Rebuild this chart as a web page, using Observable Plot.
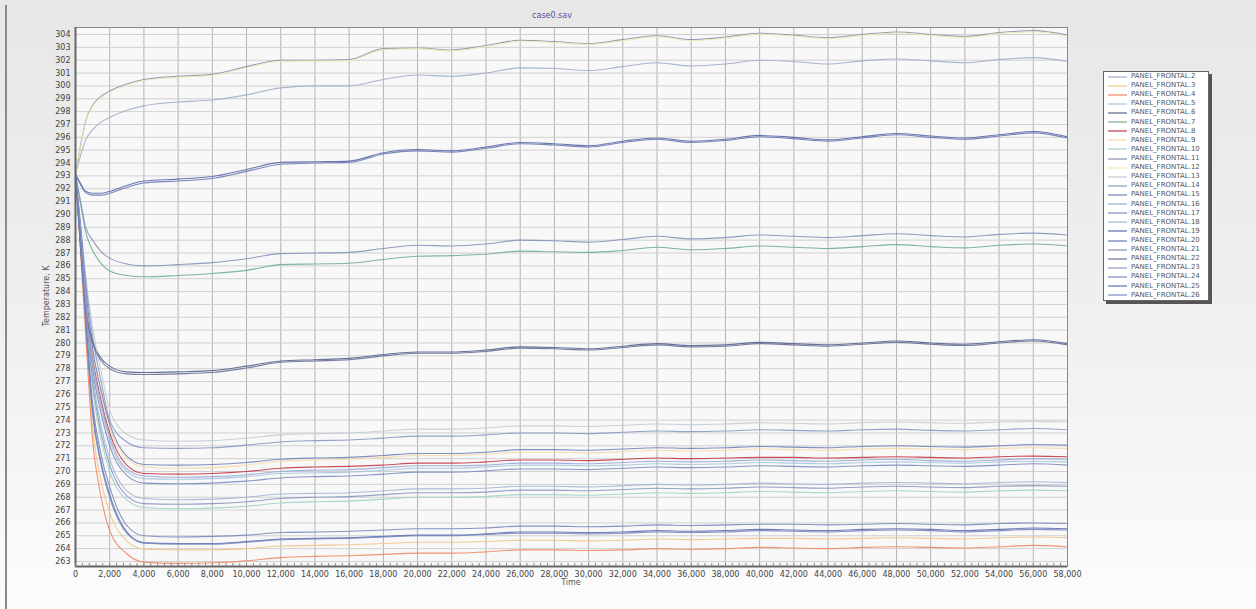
<!DOCTYPE html>
<html><head><meta charset="utf-8">
<script src="https://cdn.jsdelivr.net/npm/d3@7"></script>
<script src="https://cdn.jsdelivr.net/npm/@observablehq/plot@0.6"></script>
<style>
html,body{margin:0;padding:0;}
body{width:1256px;height:609px;overflow:hidden;position:relative;background:linear-gradient(to bottom,#e7e7e7 0%,#f0f0f0 55%,#fcfcfc 100%);font-family:"DejaVu Sans",Verdana,sans-serif;}
#edge{position:absolute;left:5px;top:5px;width:2px;bottom:0;background:#8a8a8a;}
#chart{position:absolute;left:0;top:0;}
#title{position:absolute;left:452px;width:200px;top:11px;text-align:center;font-size:8px;color:#50509a;}
#xlab{position:absolute;left:75px;width:992px;top:578px;text-align:center;font-size:8px;color:#555;}
#ylab{position:absolute;left:46px;top:296px;transform:translate(-50%,-50%) rotate(-90deg);font-size:8px;color:#555;white-space:nowrap;}
#legend{position:absolute;left:1103px;top:71px;width:104px;background:#fff;border:1px solid #666;box-shadow:3px 3px 0 #555;padding:0;}
.row{height:9.12px;display:flex;align-items:center;font-size:7px;color:#555;line-height:9px;white-space:nowrap;}
.row svg{margin-left:4px;margin-right:4px;}
</style></head>
<body>
<div id="edge"></div>
<div id="chart"></div>
<div id="title">case0.sav</div>
<div id="xlab">Time</div>
<div id="ylab">Temperature, K</div>
<div id="legend"></div>
<script>
const time = [0,300,600,1000,1500,2000,3000,4000,6000,8000,10000,12000,14000,16000,18000,20000,22000,24000,26000,28000,30000,32000,34000,36000,38000,40000,42000,44000,46000,48000,50000,52000,54000,56000,58000];

const panel2  = [293.1,294.6,295.8,296.6,297.2,297.55,298.1,298.45,298.75,298.9,299.3,299.85,300.0,300.0,300.5,300.85,300.75,301.0,301.4,301.35,301.2,301.5,301.8,301.55,301.7,302.0,301.9,301.7,301.95,302.1,301.95,301.8,302.05,302.2,301.9];
const panel3  = [293.1,287.5,281.0,273.5,269.2,266.8,264.6,263.95,263.9,263.9,264.0,264.2,264.25,264.3,264.4,264.5,264.5,264.55,264.65,264.65,264.6,264.65,264.75,264.7,264.75,264.8,264.8,264.75,264.8,264.85,264.8,264.75,264.85,264.9,264.85];
const panel4  = [293.1,287.0,280.5,272.5,268.0,265.4,263.6,262.95,262.85,262.9,263.05,263.3,263.4,263.45,263.55,263.65,263.65,263.75,263.9,263.9,263.85,263.9,264.0,263.95,264.0,264.1,264.05,264.0,264.1,264.15,264.1,264.05,264.15,264.25,264.15];
const panel5  = [293.1,288.6,283.5,278.5,275.0,272.4,270.0,269.45,269.4,269.45,269.6,269.85,269.9,269.95,270.1,270.25,270.25,270.35,270.5,270.5,270.45,270.5,270.6,270.55,270.6,270.7,270.65,270.6,270.7,270.75,270.7,270.65,270.75,270.8,270.75];
const panel6  = [293.1,287.5,283.0,280.2,278.8,278.2,277.75,277.7,277.75,277.85,278.2,278.6,278.7,278.8,279.1,279.3,279.3,279.45,279.7,279.65,279.55,279.75,279.95,279.8,279.85,280.05,279.95,279.85,280.0,280.15,280.0,279.9,280.1,280.25,279.95];
const panel7  = [293.1,290.8,288.6,287.2,286.2,285.6,285.25,285.15,285.25,285.4,285.65,286.1,286.15,286.2,286.5,286.75,286.8,286.9,287.15,287.1,287.05,287.2,287.45,287.25,287.35,287.55,287.45,287.35,287.5,287.65,287.5,287.4,287.6,287.7,287.55];
const panel8  = [293.1,288.7,283.8,279.0,275.5,273.0,270.5,269.85,269.8,269.85,270.0,270.25,270.35,270.4,270.5,270.65,270.65,270.75,270.9,270.9,270.85,270.95,271.05,271.0,271.05,271.1,271.1,271.05,271.1,271.15,271.1,271.05,271.15,271.2,271.15];
const panel9  = [293.1,288.8,284.0,279.3,276.0,273.4,271.0,270.35,270.25,270.3,270.5,270.8,270.9,270.95,271.1,271.25,271.25,271.35,271.5,271.5,271.45,271.55,271.65,271.6,271.65,271.75,271.7,271.65,271.75,271.8,271.75,271.7,271.8,271.85,271.8];
const panel10 = [293.1,288.2,282.5,276.5,272.5,270.0,267.8,267.2,267.1,267.15,267.3,267.55,267.65,267.7,267.85,268.0,268.0,268.05,268.2,268.2,268.15,268.25,268.35,268.3,268.35,268.45,268.4,268.35,268.45,268.5,268.45,268.4,268.5,268.55,268.5];
const panel11 = [293.1,295.4,297.3,298.5,299.2,299.6,300.15,300.5,300.75,300.9,301.5,302.0,302.0,302.05,302.9,302.95,302.8,303.15,303.55,303.45,303.3,303.6,303.9,303.6,303.8,304.1,303.95,303.75,304.0,304.2,304.0,303.85,304.15,304.3,303.95];
const panel12 = [293.1,295.3,297.2,298.4,299.1,299.5,300.07,300.42,300.68,300.83,301.42,301.92,301.93,301.98,302.82,302.88,302.73,303.07,303.47,303.38,303.23,303.52,303.82,303.53,303.72,304.02,303.88,303.68,303.92,304.12,303.93,303.78,304.07,304.22,303.88];
const panel13 = [293.1,289.2,285.2,281.2,277.8,274.8,272.9,272.45,272.35,272.4,272.6,272.85,272.95,273.0,273.15,273.3,273.3,273.4,273.55,273.55,273.5,273.6,273.7,273.65,273.7,273.8,273.75,273.7,273.8,273.85,273.8,273.75,273.85,273.9,273.85];
const panel14 = [293.1,289.1,284.8,280.5,277.0,274.0,272.3,271.85,271.8,271.85,272.05,272.3,272.4,272.45,272.6,272.75,272.75,272.85,273.0,273.0,272.95,273.05,273.15,273.1,273.15,273.25,273.2,273.15,273.25,273.3,273.2,273.15,273.25,273.35,273.25];
const panel15 = [293.1,288.9,284.2,279.6,276.3,273.7,271.2,270.55,270.5,270.55,270.7,270.95,271.05,271.1,271.25,271.4,271.4,271.5,271.7,271.7,271.65,271.75,271.85,271.8,271.85,271.95,271.9,271.85,271.95,272.0,271.95,271.9,272.0,272.1,272.05];
const panel16 = [293.1,288.6,283.6,278.7,275.2,272.7,270.2,269.65,269.55,269.6,269.75,270.0,270.1,270.15,270.3,270.45,270.45,270.5,270.65,270.65,270.6,270.7,270.8,270.75,270.8,270.9,270.85,270.8,270.9,270.95,270.85,270.8,270.9,271.0,270.95];
const panel17 = [293.1,288.5,283.3,278.0,274.5,272.0,269.7,269.1,269.05,269.1,269.25,269.5,269.6,269.65,269.8,269.95,269.95,270.05,270.2,270.2,270.15,270.25,270.35,270.3,270.35,270.45,270.4,270.35,270.45,270.5,270.45,270.4,270.5,270.6,270.5];
const panel18 = [293.1,288.4,283.0,277.5,273.5,271.0,268.5,267.9,267.8,267.85,268.0,268.25,268.3,268.35,268.5,268.65,268.65,268.7,268.85,268.85,268.8,268.9,269.0,268.95,269.0,269.1,269.05,269.0,269.1,269.15,269.1,269.05,269.15,269.2,269.15];
const panel19 = [293.1,292.4,291.8,291.65,291.65,291.8,292.25,292.6,292.75,292.95,293.5,294.05,294.1,294.15,294.8,295.05,294.95,295.25,295.6,295.5,295.35,295.7,295.95,295.7,295.85,296.15,296.0,295.8,296.05,296.3,296.1,295.95,296.2,296.45,296.05];
const panel20 = [293.1,292.3,291.7,291.5,291.5,291.65,292.1,292.45,292.6,292.8,293.35,293.9,294.0,294.05,294.7,294.95,294.85,295.15,295.5,295.4,295.25,295.6,295.85,295.6,295.75,296.05,295.9,295.7,295.95,296.2,296.0,295.85,296.1,296.35,295.95];
const panel21 = [293.1,291.0,289.0,288.0,287.1,286.6,286.15,286.0,286.1,286.25,286.55,286.95,287.0,287.05,287.35,287.6,287.55,287.7,288.0,287.95,287.85,288.05,288.3,288.1,288.2,288.4,288.3,288.2,288.35,288.5,288.35,288.25,288.45,288.55,288.4];
const panel22 = [293.1,287.2,282.6,280.0,278.6,278.0,277.6,277.55,277.6,277.7,278.05,278.5,278.6,278.7,279.0,279.2,279.2,279.35,279.6,279.55,279.45,279.65,279.85,279.7,279.75,279.95,279.85,279.75,279.9,280.05,279.9,279.8,280.0,280.15,279.85];
const panel23 = [293.1,288.3,282.8,277.0,273.0,270.5,268.1,267.5,267.45,267.5,267.65,267.9,268.0,268.05,268.2,268.35,268.35,268.4,268.55,268.55,268.5,268.6,268.7,268.65,268.7,268.8,268.75,268.7,268.8,268.85,268.8,268.75,268.85,268.9,268.85];
const panel24 = [293.1,288.0,282.0,275.3,271.3,268.8,265.8,265.0,264.9,264.95,265.05,265.25,265.3,265.35,265.45,265.55,265.55,265.6,265.75,265.75,265.7,265.75,265.85,265.8,265.85,265.9,265.9,265.85,265.9,265.95,265.9,265.85,265.95,266.0,265.95];
const panel25 = [293.1,287.8,281.6,274.7,270.7,268.2,265.3,264.45,264.4,264.4,264.55,264.75,264.8,264.85,264.95,265.05,265.05,265.15,265.3,265.3,265.25,265.3,265.4,265.35,265.4,265.5,265.45,265.4,265.5,265.55,265.5,265.4,265.5,265.6,265.55];
const panel26 = [293.1,287.8,281.5,274.5,270.5,268.0,265.2,264.45,264.35,264.35,264.5,264.7,264.75,264.8,264.9,265.0,265.0,265.1,265.2,265.2,265.15,265.2,265.3,265.25,265.3,265.4,265.35,265.3,265.4,265.45,265.4,265.3,265.4,265.5,265.45];

const seriesNames = ["PANEL_FRONTAL.2","PANEL_FRONTAL.3","PANEL_FRONTAL.4","PANEL_FRONTAL.5","PANEL_FRONTAL.6","PANEL_FRONTAL.7","PANEL_FRONTAL.8","PANEL_FRONTAL.9","PANEL_FRONTAL.10","PANEL_FRONTAL.11","PANEL_FRONTAL.12","PANEL_FRONTAL.13","PANEL_FRONTAL.14","PANEL_FRONTAL.15","PANEL_FRONTAL.16","PANEL_FRONTAL.17","PANEL_FRONTAL.18","PANEL_FRONTAL.19","PANEL_FRONTAL.20","PANEL_FRONTAL.21","PANEL_FRONTAL.22","PANEL_FRONTAL.23","PANEL_FRONTAL.24","PANEL_FRONTAL.25","PANEL_FRONTAL.26"];
const seriesValues = [panel2,panel3,panel4,panel5,panel6,panel7,panel8,panel9,panel10,panel11,panel12,panel13,panel14,panel15,panel16,panel17,panel18,panel19,panel20,panel21,panel22,panel23,panel24,panel25,panel26];
const seriesColors = ["#9fadc9","#f2c488","#ee8a66","#a6c6e0","#56638f","#6fae93","#c43a4a","#f5d9a8","#9fd3c6","#8890b0","#eee7b0","#c5cbd6","#8898c4","#7282b8","#9aa8d6","#7c8cc0","#a3b6d6","#5a6aa8","#6878b4","#8492bc","#6a7098","#8a98c2","#7a88bc","#5f70b0","#7888c0"];

const xTicks = d3.range(0, 58001, 2000);
const xMinor = d3.range(0, 58001, 400);
const yTicks = d3.range(263, 305, 1);
const yMin = 262.61, yMax = 304.545;

const rows = seriesNames.flatMap((n, k) => seriesValues[k].map((v, i) => ({name: n, t: time[i], v})));

const chart = Plot.plot({
  width: 1095, height: 600,
  marginLeft: 75, marginRight: 28, marginTop: 27, marginBottom: 34,
  style: {background: "transparent", fontFamily: "'DejaVu Sans', sans-serif", fontSize: "8px", color: "#444"},
  x: {domain: [0, 58000]},
  y: {domain: [yMin, yMax]},
  color: {domain: seriesNames, range: seriesColors},
  marks: [
    Plot.frame({fill: "#f8f8f8", stroke: null}),
    Plot.gridX({ticks: xTicks, stroke: "#b3b3b3", strokeOpacity: 1}),
    Plot.gridY({ticks: yTicks, stroke: "#d0d0d0", strokeOpacity: 1}),
    Plot.line(rows, {x: "t", y: "v", z: "name", stroke: "name", curve: "monotone-x", strokeWidth: 1.1, strokeOpacity: 0.9}),
    Plot.frame({stroke: "#8a8a8a"}),
    Plot.ruleX([0], {stroke: "#666", strokeWidth: 2}),
    Plot.ruleY([yMin], {stroke: "#666", strokeWidth: 2}),
    Plot.axisX({ticks: xMinor, tickSize: 3, text: null, dy: -3, label: null, stroke: "#888"}),
    Plot.axisX({ticks: xTicks, tickSize: 0, tickPadding: 5, label: null, tickFormat: d3.format(",")}),
    Plot.axisY({ticks: yTicks, tickSize: 0, tickPadding: 5, label: null})
  ]
});
document.getElementById("chart").appendChild(chart);

const legend = document.getElementById("legend");
seriesNames.forEach((n, k) => {
  const row = document.createElement("div");
  row.className = "row";
  row.innerHTML = `<svg width="19" height="4"><line x1="0" y1="2" x2="19" y2="2" stroke="${seriesColors[k]}" stroke-width="1.2"/></svg><span>${n}</span>`;
  legend.appendChild(row);
});
</script>
</body></html>
